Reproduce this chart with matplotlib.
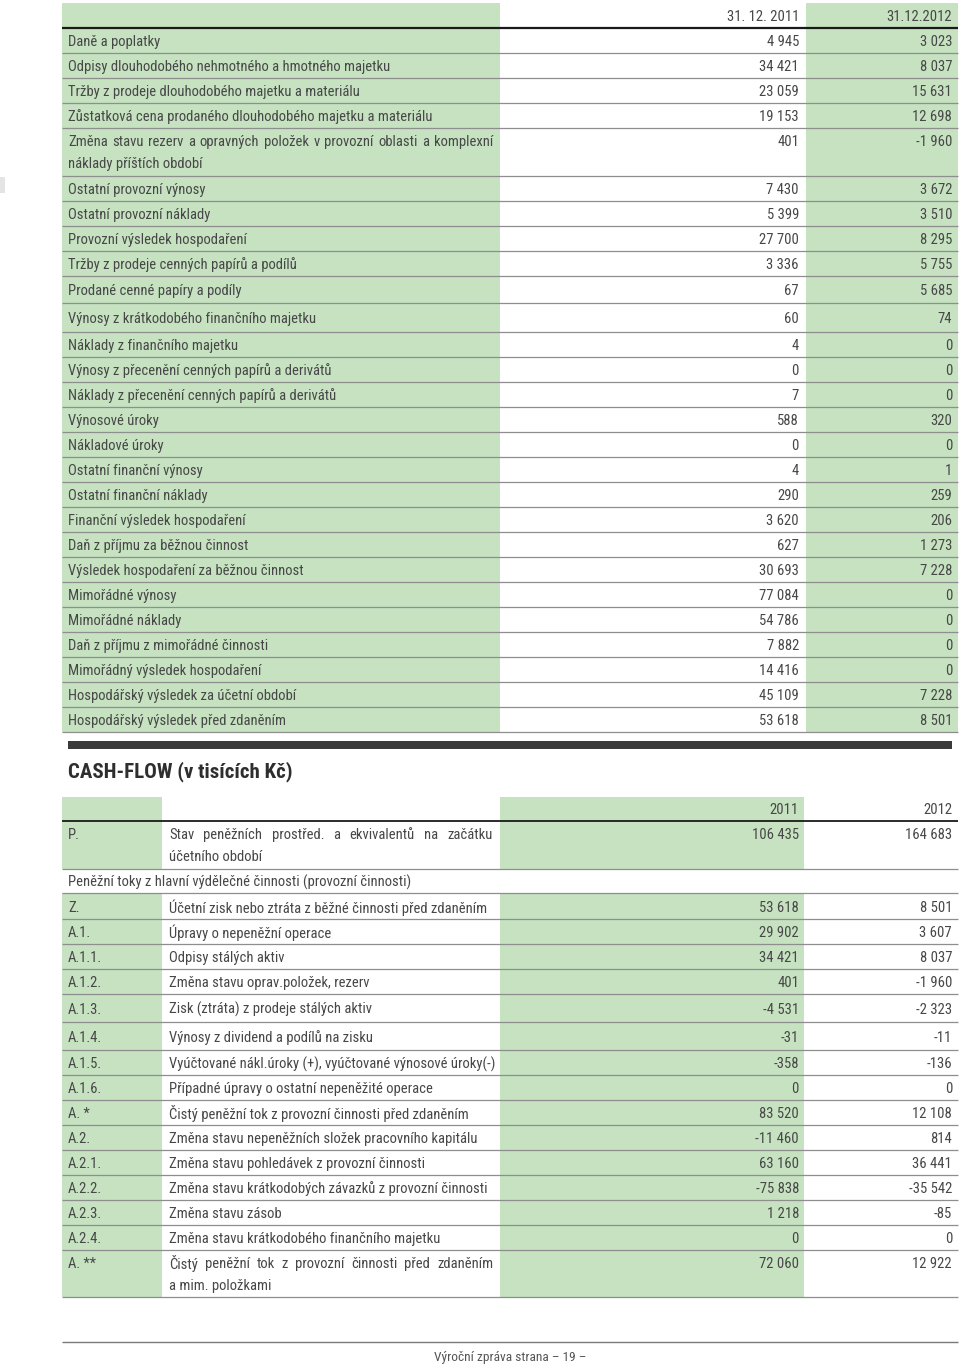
import matplotlib
matplotlib.use("Agg")
import matplotlib.pyplot as plt
from matplotlib import font_manager
from matplotlib.patches import Rectangle

# ---------------- data ----------------
top_header = ["31. 12. 2011", "31.12.2012"]
top_labels = [
    "Daně a poplatky",
    "Odpisy dlouhodobého nehmotného a hmotného majetku",
    "Tržby z prodeje dlouhodobého majetku a materiálu",
    "Zůstatková cena prodaného dlouhodobého majetku a materiálu",
    "Změna stavu rezerv a opravných položek v provozní oblasti a komplexní\nnáklady příštích období",
    "Ostatní provozní výnosy",
    "Ostatní provozní náklady",
    "Provozní výsledek hospodaření",
    "Tržby z prodeje cenných papírů a podílů",
    "Prodané cenné papíry a podíly",
    "Výnosy z krátkodobého finančního majetku",
    "Náklady z finančního majetku",
    "Výnosy z přecenění cenných papírů a derivátů",
    "Náklady z přecenění cenných papírů a derivátů",
    "Výnosové úroky",
    "Nákladové úroky",
    "Ostatní finanční výnosy",
    "Ostatní finanční náklady",
    "Finanční výsledek hospodaření",
    "Daň z příjmu za běžnou činnost",
    "Výsledek hospodaření za běžnou činnost",
    "Mimořádné výnosy",
    "Mimořádné náklady",
    "Daň z příjmu z mimořádné činnosti",
    "Mimořádný výsledek hospodaření",
    "Hospodářský výsledek za účetní období",
    "Hospodářský výsledek před zdaněním",
]
top_2011 = [4945, 34421, 23059, 19153, 401, 7430, 5399, 27700, 3336, 67,
            60, 4, 0, 7, 588, 0, 4, 290, 3620, 627, 30693, 77084, 54786,
            7882, 14416, 45109, 53618]
top_2012 = [3023, 8037, 15631, 12698, -1960, 3672, 3510, 8295, 5755, 5685,
            74, 0, 0, 0, 320, 0, 1, 259, 206, 1273, 7228, 0, 0, 0, 0,
            7228, 8501]

cf_title = "CASH-FLOW (v tisících Kč)"
cf_header = ["2011", "2012"]
cf_codes = ["P.", "", "Z.", "A.1.", "A.1.1.", "A.1.2.", "A.1.3.", "A.1.4.",
            "A.1.5.", "A.1.6.", "A. *", "A.2.", "A.2.1.", "A.2.2.", "A.2.3.",
            "A.2.4.", "A. **"]
cf_labels = [
    "Stav peněžních prostřed. a ekvivalentů na začátku\núčetního období",
    "Peněžní toky z hlavní výdělečné činnosti (provozní činnosti)",
    "Účetní zisk nebo ztráta z běžné činnosti před zdaněním",
    "Úpravy o nepeněžní operace",
    "Odpisy stálých aktiv",
    "Změna stavu oprav.položek, rezerv",
    "Zisk (ztráta) z prodeje stálých aktiv",
    "Výnosy z dividend a podílů na zisku",
    "Vyúčtované nákl.úroky (+), vyúčtované výnosové úroky(-)",
    "Případné úpravy o ostatní nepeněžité operace",
    "Čistý peněžní tok z provozní činnosti před zdaněním",
    "Změna stavu nepeněžních složek pracovního kapitálu",
    "Změna stavu pohledávek z provozní činnosti",
    "Změna stavu krátkodobých závazků z provozní činnosti",
    "Změna stavu zásob",
    "Změna stavu krátkodobého finančního majetku",
    "Čistý peněžní tok z provozní činnosti před zdaněním\na mim. položkami",
]
cf_2011 = [106435, None, 53618, 29902, 34421, 401, -4531, -31, -358, 0,
           83520, -11460, 63160, -75838, 1218, 0, 72060]
cf_2012 = [164683, None, 8501, 3607, 8037, -1960, -2323, -11, -136, 0,
           12108, 814, 36441, -35542, -85, 0, 12922]
footer = "Výroční zpráva strana – 19 –"

# ---------------- layout / style ----------------
names = {f.name for f in font_manager.fontManager.ttflist}
STRETCH = "normal"
for cand in ["Roboto Condensed", "Open Sans Condensed", "Liberation Sans Narrow",
             "DejaVu Sans Condensed"]:
    if cand in names:
        FAM = [cand, "DejaVu Sans"]
        break
else:
    FAM = ["DejaVu Sans"]
    STRETCH = "condensed"
plt.rcParams["font.family"] = FAM

GREEN = "#c6e2c1"
TXT = "#474747"
LINE = "#8e8e8e"
FS = 10.5
WEIGHT = "normal"
DY = 1.0

W, H = 960, 1367
fig = plt.figure(figsize=(W / 100, H / 100), dpi=100)
ax = fig.add_axes([0, 0, 1, 1])
ax.set_xlim(0, W)
ax.set_ylim(H, 0)
ax.axis("off")
renderer = fig.canvas.get_renderer()


def fmt(v):
    if v is None:
        return ""
    return f"{v:,}".replace(",", " ")


def txt(x, y, s, ha="left", **kw):
    kw.setdefault("fontsize", FS)
    kw.setdefault("color", TXT)
    kw.setdefault("fontweight", WEIGHT)
    return ax.text(x, y + DY, s, ha=ha, va="center", fontstretch=STRETCH, **kw)


def width_of(s):
    t = txt(0, 0, s)
    w = t.get_window_extent(renderer).width
    t.remove()
    return w


def justify(x0, x1, y, s):
    words = s.split(" ")
    n = len(words)
    full = width_of(s)
    extra = (x1 - x0 - full) / (n - 1)
    for i, w in enumerate(words):
        if i == 0:
            nat = 0.0
        else:
            nat = width_of(" ".join(words[:i + 1])) - width_of(w)
        txt(x0 + nat + i * extra, y, w)


def rect(x0, y0, x1, y1, c):
    ax.add_patch(Rectangle((x0, y0), x1 - x0, y1 - y0, facecolor=c,
                           edgecolor="none", zorder=0))


def hline(y, x0=62, x1=958, c=LINE, lw=0.9):
    ax.plot([x0, x1], [y, y], color=c, lw=lw, solid_capstyle="butt", zorder=2)


# ---------------- top table ----------------
L, C1, C2, R = 62, 500, 806, 958
top_y0, head_h = 3, 25
top_h = [25, 25, 25, 25, 48, 25, 25, 25, 25, 27, 29] + [25] * 16
top_end = top_y0 + head_h + sum(top_h)
rect(L, top_y0, C1, top_end, GREEN)
rect(C2, top_y0, R, top_end, GREEN)
txt(799, top_y0 + 13, top_header[0], ha="right")
txt(952, top_y0 + 13, top_header[1], ha="right")
y = top_y0 + head_h
hline(y, c="#1a1a1a", lw=1.6)
for lab, a, b, h in zip(top_labels, top_2011, top_2012, top_h):
    lines = lab.split("\n")
    if len(lines) == 2:
        justify(68, 493, y + 13, lines[0])
        txt(68, y + 35, lines[1])
        ty = y + 13
    else:
        ty = y + h / 2 + 0.5
        txt(68, ty, lab)
    txt(799, ty, fmt(a), ha="right")
    txt(952, ty, fmt(b), ha="right")
    y += h
    hline(y)

# separator bar
rect(68, 741, 952, 749, "#3a3a3a")

# ---------------- cash-flow ----------------
txt(68, 771, cf_title, fontsize=15, fontweight="bold", color="#2e2e2e")

D1, D2, D3 = 162, 500, 804
cf_y0, cf_hh = 797, 24
cf_h = [48, 24, 26, 25, 25, 25, 28, 28, 25, 25, 25, 25, 25, 25, 25, 25, 47]
y = cf_y0
rect(L, y, D1, y + cf_hh, GREEN)
rect(D2, y, D3, y + cf_hh, GREEN)
txt(799, y + 12, cf_header[0], ha="right")
txt(952, y + 12, cf_header[1], ha="right")
y += cf_hh
hline(y, c="#1a1a1a", lw=1.3)
for code, lab, a, b, h in zip(cf_codes, cf_labels, cf_2011, cf_2012, cf_h):
    lines = lab.split("\n")
    if code == "":
        txt(68, y + h / 2 + 0.5, lab)
    else:
        rect(L, y, D1, y + h, GREEN)
        rect(D2, y, D3, y + h, GREEN)
        if len(lines) == 2:
            ty = y + 13
            justify(169, 493, ty, lines[0])
            txt(169, y + 35, lines[1])
        else:
            ty = y + h / 2 + 0.5
            txt(169, ty, lab)
        txt(68, ty, code)
        txt(799, ty, fmt(a), ha="right")
        txt(952, ty, fmt(b), ha="right")
    y += h
    hline(y)

# footer
hline(1342, c="#7a7a7a", lw=1.0)
txt(510, 1356, footer, ha="center", fontsize=9.6, color="#555555")

# small mark at left edge
rect(0, 177, 5, 193, "#e4e4e4")

fig.savefig("out.png", dpi=100)
